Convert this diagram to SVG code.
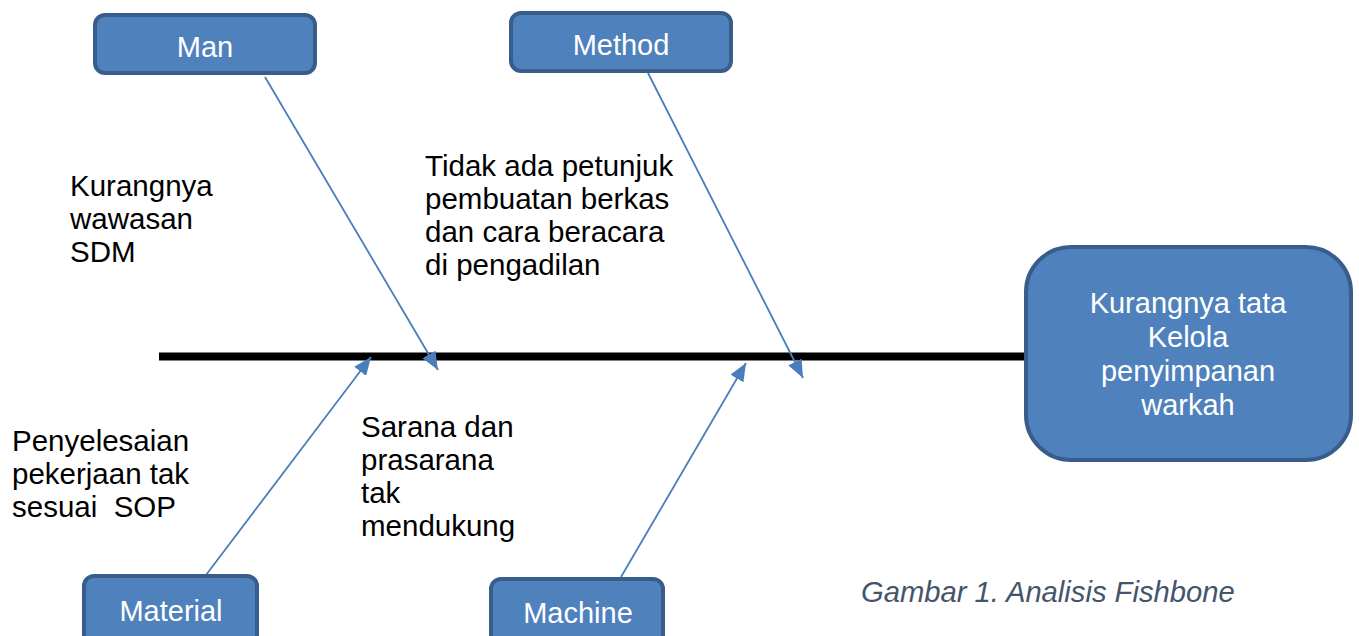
<svg xmlns="http://www.w3.org/2000/svg" width="1359" height="636" viewBox="0 0 1359 636">
<style>
.box{fill:#4f81bd;stroke:#385d8a;stroke-width:4}
.bt{font-family:"Liberation Sans",Arial,sans-serif;font-size:29px;fill:#ffffff;text-anchor:middle}
.lt{font-family:"Liberation Sans",Arial,sans-serif;font-size:29.5px;fill:#000000}
.cap{font-family:"Liberation Sans",Arial,sans-serif;font-size:29.2px;font-style:italic;fill:#44546a}
.arr{stroke:#4a7ebb;stroke-width:1.8;fill:none}
</style>
<defs>
<marker id="ah" viewBox="0 0 18 15" refX="18" refY="7.5" markerWidth="18" markerHeight="15" markerUnits="userSpaceOnUse" orient="auto">
<path d="M0,0 L18,7.5 L0,15 Z" fill="#4a7ebb"/>
</marker>
<filter id="sh" x="-5%" y="-200%" width="110%" height="500%">
<feGaussianBlur stdDeviation="3"/>
</filter>
</defs>
<rect width="1359" height="636" fill="#ffffff"/>
<g id="spine">
<line x1="162" y1="362" x2="1026" y2="362" stroke="#808080" stroke-width="8" filter="url(#sh)" opacity="0.7"/>
<line x1="159" y1="356.5" x2="1026" y2="356.5" stroke="#000000" stroke-width="8"/>
</g>
<g id="connectors">
<line class="arr" x1="265" y1="77" x2="438" y2="370" marker-end="url(#ah)"/>
<line class="arr" x1="648" y1="73" x2="803" y2="378" marker-end="url(#ah)"/>
<line class="arr" x1="206" y1="575" x2="371" y2="357" marker-end="url(#ah)"/>
<line class="arr" x1="621" y1="577" x2="746" y2="363" marker-end="url(#ah)"/>
</g>
<g id="man">
<rect class="box" x="95" y="15" width="220" height="58" rx="10"/>
<text class="bt" x="205" y="57">Man</text>
</g>
<g id="method">
<rect class="box" x="511" y="13" width="220" height="58" rx="10"/>
<text class="bt" x="621" y="55">Method</text>
</g>
<g id="material">
<rect class="box" x="84" y="576" width="173" height="70" rx="10"/>
<text class="bt" x="171" y="621">Material</text>
</g>
<g id="machine">
<rect class="box" x="491" y="579" width="172" height="70" rx="10"/>
<text class="bt" x="578" y="623">Machine</text>
</g>
<g id="effect">
<rect class="box" x="1026" y="247" width="325" height="213" rx="45"/>
<text class="bt" x="1188" y="313">Kurangnya tata</text>
<text class="bt" x="1188" y="347">Kelola</text>
<text class="bt" x="1188" y="381">penyimpanan</text>
<text class="bt" x="1188" y="415">warkah</text>
</g>
<g id="label-man">
<text class="lt" x="70" y="196">Kurangnya</text>
<text class="lt" x="70" y="229">wawasan</text>
<text class="lt" x="70" y="262">SDM</text>
</g>
<g id="label-method">
<text class="lt" x="425" y="176">Tidak ada petunjuk</text>
<text class="lt" x="425" y="209">pembuatan berkas</text>
<text class="lt" x="425" y="242">dan cara beracara</text>
<text class="lt" x="425" y="275">di pengadilan</text>
</g>
<g id="label-material">
<text class="lt" x="12" y="451">Penyelesaian</text>
<text class="lt" x="12" y="484">pekerjaan tak</text>
<text class="lt" x="12" y="517" xml:space="preserve">sesuai  SOP</text>
</g>
<g id="label-machine">
<text class="lt" x="361" y="437">Sarana dan</text>
<text class="lt" x="361" y="470">prasarana</text>
<text class="lt" x="361" y="503">tak</text>
<text class="lt" x="361" y="536">mendukung</text>
</g>
<g id="caption">
<text class="cap" x="861" y="602">Gambar 1. Analisis Fishbone</text>
</g>
</svg>
